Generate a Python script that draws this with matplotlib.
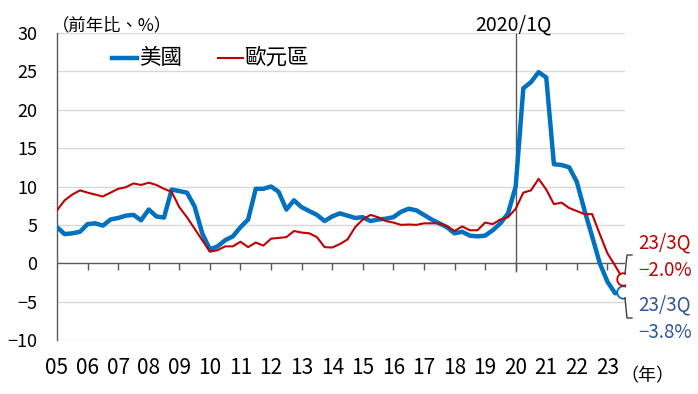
import matplotlib
matplotlib.use("Agg")
import matplotlib.pyplot as plt
import numpy as np

plt.rcParams['font.family'] = ['Noto Sans CJK TC', 'DejaVu Sans']
plt.rcParams['axes.unicode_minus'] = True

# Quarterly data 2005Q1 .. 2023Q3 (YoY %)
us = [4.7, 3.8, 3.9, 4.1, 5.1, 5.2, 4.9, 5.7, 5.9, 6.2, 6.3, 5.6, 7.0, 6.1, 5.95, 9.6,
      9.4, 9.2, 7.4, 3.9, 1.8, 2.2, 3.0, 3.5, 4.7, 5.7, 9.7, 9.7, 10.0, 9.3, 7.0, 8.2,
      7.3, 6.8, 6.3, 5.5, 6.1, 6.5, 6.2, 5.9, 6.0, 5.5, 5.7, 5.8, 6.0, 6.7, 7.1, 6.9,
      6.3, 5.7, 5.2, 4.7, 3.9, 4.1, 3.6, 3.5, 3.6, 4.3, 5.2, 6.5, 10.0, 22.8, 23.6, 24.9,
      24.2, 12.9, 12.8, 12.5, 10.6, 6.9, 3.5, 0.0, -2.4, -3.9, -3.8]
euro = [6.9, 8.2, 8.95, 9.5, 9.2, 8.95, 8.7, 9.2, 9.7, 9.9, 10.4, 10.2, 10.5, 10.2, 9.7, 9.3,
        7.3, 6.0, 4.5, 3.0, 1.5, 1.7, 2.2, 2.2, 2.8, 2.1, 2.7, 2.3, 3.2, 3.3, 3.4, 4.2,
        4.0, 3.9, 3.4, 2.1, 2.05, 2.5, 3.1, 4.7, 5.7, 6.3, 6.0, 5.5, 5.3, 5.0, 5.05, 5.0,
        5.2, 5.2, 5.2, 4.85, 4.2, 4.8, 4.3, 4.3, 5.3, 5.1, 5.7, 6.0, 7.1, 9.2, 9.5, 11.0,
        9.6, 7.7, 7.9, 7.2, 6.8, 6.4, 6.4, 3.8, 1.3, -0.3, -2.0]
year_labels = ['05', '06', '07', '08', '09', '10', '11', '12', '13', '14',
               '15', '16', '17', '18', '19', '20', '21', '22', '23']
yticks = [-10, -5, 0, 5, 10, 15, 20, 25, 30]
series_names = ['美國', '歐元區']
marker_line_label = '2020/1Q'
mark_index = 60  # 2020Q1

W, H = 698, 394
fig = plt.figure(figsize=(W / 100, H / 100), dpi=100)
ax = fig.add_axes([57 / W, 1 - 340 / H, (625 - 57) / W, (340 - 33) / H])

x = np.arange(len(us))
blue = '#0070C0'
red = '#C00000'
blue_txt = '#2F5597'

for y in yticks:
    if y != 0:
        ax.axhline(y, color='#D9D9D9', lw=1.0, zorder=0)

ax.plot(x, us, color=blue, lw=3.2, solid_joinstyle='round', zorder=3, label=series_names[0])
ax.plot(x, euro, color=red, lw=1.5, zorder=4, label=series_names[1])

# end-point circles
ax.plot([x[-1]], [euro[-1]], 'o', ms=9, mfc='white', mec=red, mew=1.3, zorder=6)
ax.plot([x[-1]], [us[-1]], 'o', ms=9, mfc='white', mec=blue, mew=1.3, zorder=5)

ax.set_xlim(0, len(us) - 1 + 0.3)
ax.set_ylim(-10, 30)

# zero line and year ticks
ax.axhline(0, color='#595959', lw=1.0, zorder=2)
tick_pos = np.arange(0, len(us), 4)
ax.vlines(tick_pos[1:], -0.85, 0, color='#595959', lw=1.0, zorder=2)

# 2020/1Q vertical line
ax.vlines(mark_index, -1.1, 30, color='#595959', lw=1.0, zorder=2)

for s in ['top', 'right', 'bottom']:
    ax.spines[s].set_visible(False)
ax.spines['left'].set_color('#595959')
ax.spines['left'].set_linewidth(1.0)

ax.set_yticks(yticks)
ax.set_yticklabels([str(v).replace('-', '\u2212') for v in yticks], fontsize=13)
ax.tick_params(axis='y', length=0, pad=14)
ax.set_xticks(tick_pos)
ax.set_xticklabels(year_labels, fontsize=15)
ax.tick_params(axis='x', length=0, pad=12)

def fx(px):
    return px / W

def fy(py):
    return 1 - py / H

fig.text(fx(513), fy(25), marker_line_label, ha='center', va='center', fontsize=14,
         color='#000000')
fig.text(fx(52), fy(25), '（前年比、%）', ha='left', va='center', fontsize=12.5)
fig.text(fx(620), fy(376), '（年）', ha='left', va='center', fontsize=13)

# legend
fig.add_artist(plt.Line2D([fx(112), fx(137)], [fy(58), fy(58)], color=blue, lw=3.2))
fig.text(fx(139), fy(58), series_names[0], ha='left', va='center', fontsize=15.5)
fig.add_artist(plt.Line2D([fx(218), fx(243)], [fy(58), fy(58)], color=red, lw=1.5))
fig.text(fx(244), fy(58), series_names[1], ha='left', va='center', fontsize=15.5)

# annotations
fig.text(fx(665), fy(243), '23/3Q', ha='center', va='center', fontsize=13.5, color=red)
fig.text(fx(665), fy(270), '\u22122.0%', ha='center', va='center', fontsize=13.5, color=red)
fig.text(fx(665), fy(305), '23/3Q', ha='center', va='center', fontsize=13.5, color=blue_txt)
fig.text(fx(665), fy(332), '\u22123.8%', ha='center', va='center', fontsize=13.5, color=blue_txt)

brk = '#404040'
fig.add_artist(plt.Line2D([fx(632), fx(627), fx(625)], [fy(255), fy(255), fy(274)],
                          color=brk, lw=1.0))
fig.add_artist(plt.Line2D([fx(625), fx(627), fx(632)], [fy(298), fy(318), fy(318)],
                          color=brk, lw=1.0))

fig.savefig('out.png', dpi=100)
